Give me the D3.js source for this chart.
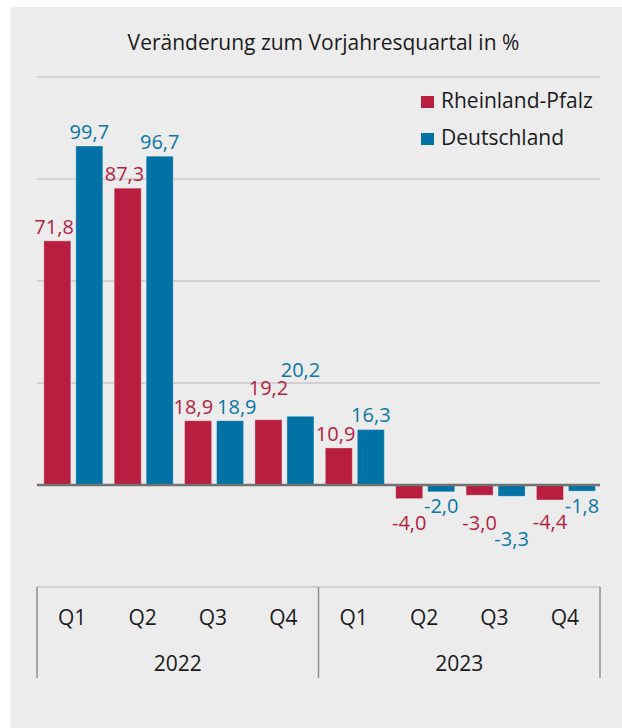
<!DOCTYPE html>
<html>
<head>
<meta charset="utf-8">
<script src="https://cdn.jsdelivr.net/npm/d3@7"></script>
<style>
  html, body { margin: 0; padding: 0; background: #ffffff; }
  svg { display: block; }
  text { font-family: "Open Sans", "Noto Sans", sans-serif; font-weight: 500; }
</style>
</head>
<body>
<svg id="chart" width="622" height="728"></svg>
<script>
// ---- data ----
const title = "Veränderung zum Vorjahresquartal in %";
const years = ["2022", "2023"];
const quarters = ["Q1", "Q2", "Q3", "Q4"];
const categories = ["2022-Q1", "2022-Q2", "2022-Q3", "2022-Q4", "2023-Q1", "2023-Q2", "2023-Q3", "2023-Q4"];
const seriesNames = ["Rheinland-Pfalz", "Deutschland"];
const rheinlandPfalz = [71.8, 87.3, 18.9, 19.2, 10.9, -4.0, -3.0, -4.4];
const deutschland = [99.7, 96.7, 18.9, 20.2, 16.3, -2.0, -3.3, -1.8];
const gridTicks = [-30, 30, 60, 90, 120];

// ---- setup ----
const colors = { "Rheinland-Pfalz": "#b71e3f", "Deutschland": "#0072a5" };
const labelColors = { "Rheinland-Pfalz": "#b71e3f", "Deutschland": "#0a76a9" };
const svg = d3.select("#chart");

svg.append("rect").attr("x", 11).attr("y", 7).attr("width", 611).attr("height", 721).attr("fill", "#ececec");

svg.append("text").attr("x", 323.5).attr("y", 50).attr("text-anchor", "middle")
  .attr("font-size", 21).attr("fill", "#1b1b1b").text(title);

const left = 37, right = 600;
const y = d3.scaleLinear().domain([-30, 120]).range([587, 77]);
const x0 = d3.scaleBand().domain(categories).range([left, right]).padding(0);
const x1 = d3.scaleBand().domain(seriesNames).range([0, x0.bandwidth()])
  .paddingInner(0.156).paddingOuter(0.178).align(0.6);

// gridlines
svg.append("g").selectAll("line").data(gridTicks).join("line")
  .attr("x1", left).attr("x2", right)
  .attr("y1", d => y(d)).attr("y2", d => y(d))
  .attr("stroke", "#c8c8c8").attr("stroke-width", 1.5);

// bars
const flat = [];
categories.forEach((c, i) => {
  flat.push({ cat: c, s: "Rheinland-Pfalz", v: rheinlandPfalz[i] });
  flat.push({ cat: c, s: "Deutschland", v: deutschland[i] });
});
const barX = d => x0(d.cat) + x1(d.s);
const barTop = d => y(Math.max(0, d.v));
const barBottom = d => y(Math.min(0, d.v));

svg.append("g").selectAll("rect").data(flat).join("rect")
  .attr("x", barX)
  .attr("width", x1.bandwidth())
  .attr("y", barTop)
  .attr("height", d => barBottom(d) - barTop(d))
  .attr("fill", d => colors[d.s])
  .attr("stroke", "rgba(255,255,255,0.3)").attr("stroke-width", 1);

// zero line
svg.append("line").attr("x1", left).attr("x2", right)
  .attr("y1", y(0)).attr("y2", y(0))
  .attr("stroke", "#727272").attr("stroke-width", 2.5);

// value labels with simple collision avoidance
const fmt = v => d3.format(".1f")(v).replace("\u2212", "-").replace(".", ",");
const labelG = svg.append("g");
const cap = 14.5, gap = 7, hpad = 5;
const vpadOf = v => (v >= 0 ? 4 : 2);
const labels = flat.map(d => {
  const cx = barX(d) + x1.bandwidth() / 2;
  const t = labelG.append("text").attr("text-anchor", "middle").attr("font-size", 20)
    .attr("fill", labelColors[d.s]).text(fmt(d.v));
  const w = t.node().getComputedTextLength();
  const base = d.v >= 0 ? y(d.v) - gap : y(d.v) + gap + cap;
  return { d, t, cx, w, base };
});
const box = L => ({ x0: L.cx - L.w / 2, x1: L.cx + L.w / 2 });

// keep labels off neighbouring bars
labels.forEach(L => {
  flat.forEach(b => {
    if (b === L.d) return;
    const bx0 = barX(b), bx1 = bx0 + x1.bandwidth();
    const a = box(L);
    const xo = Math.min(a.x1, bx1) - Math.max(a.x0, bx0);
    const vo = (L.base - cap) < barBottom(b) && barTop(b) < L.base + 2;
    if (xo > 0 && vo) {
      const dir = L.cx < (bx0 + bx1) / 2 ? -1 : 1;
      L.cx += dir * (xo + 2);
    }
  });
});

const placed = [];
labels.slice().sort((a, b) => Math.abs(a.d.v) - Math.abs(b.d.v)).forEach(L => {
  let moved = true, guard = 0;
  const vpad = vpadOf(L.d.v);
  while (moved && guard++ < 50) {
    moved = false;
    for (const P of placed) {
      if ((P.d.v >= 0) !== (L.d.v >= 0)) continue;
      const a = box(L), b = box(P);
      if (L.d.cat === P.d.cat && L.d.v === P.d.v) {
        const xo0 = Math.min(a.x1, b.x1) - Math.max(a.x0, b.x0);
        if (xo0 > -4 && Math.abs(L.base - P.base) < 1) {
          const dir = L.cx >= P.cx ? 1 : -1;
          L.cx += dir * (xo0 / 2 + 3);
          P.cx -= dir * (xo0 / 2 + 1);
          moved = true;
        }
        continue;
      }
      const xo = Math.min(a.x1, b.x1) - Math.max(a.x0, b.x0) + hpad;
      const yo = (L.base - cap) < P.base + vpad && (P.base - cap) < L.base + vpad;
      if (xo > 0 && yo) {
        if (L.d.v >= 0) L.base = P.base - cap - vpad;
        else L.base = P.base + vpad + cap;
        moved = true;
      }
    }
  }
  placed.push(L);
});
labels.forEach(L => L.t.attr("x", L.cx).attr("y", L.base));

// category axis box
const axisG = svg.append("g");
const boxTop = y(-30), boxBottom = 678;
const yearEdges = [left, (left + right) / 2, right];
axisG.selectAll("line.sep").data(yearEdges).join("line").attr("class", "sep")
  .attr("x1", d => d).attr("x2", d => d)
  .attr("y1", boxTop).attr("y2", boxBottom)
  .attr("stroke", "#8f8f8f").attr("stroke-width", 1.5);

axisG.selectAll("text.q").data(categories).join("text").attr("class", "q")
  .attr("x", d => x0(d) + x0.bandwidth() / 2).attr("y", 625)
  .attr("text-anchor", "middle").attr("font-size", 21).attr("fill", "#1b1b1b")
  .text((d, i) => quarters[i % 4]);

axisG.selectAll("text.yr").data(years).join("text").attr("class", "yr")
  .attr("x", (d, i) => (yearEdges[i] + yearEdges[i + 1]) / 2).attr("y", 671)
  .attr("text-anchor", "middle").attr("font-size", 21).attr("fill", "#1b1b1b")
  .text(d => d);

// legend
const leg = svg.append("g").selectAll("g").data(seriesNames).join("g")
  .attr("transform", (d, i) => `translate(421, ${96 + i * 37})`);
leg.append("rect").attr("width", 13).attr("height", 12).attr("fill", d => colors[d]);
leg.append("text").attr("x", 20).attr("y", 12).attr("font-size", 21).attr("fill", "#1b1b1b").text(d => d);
</script>
</body>
</html>
